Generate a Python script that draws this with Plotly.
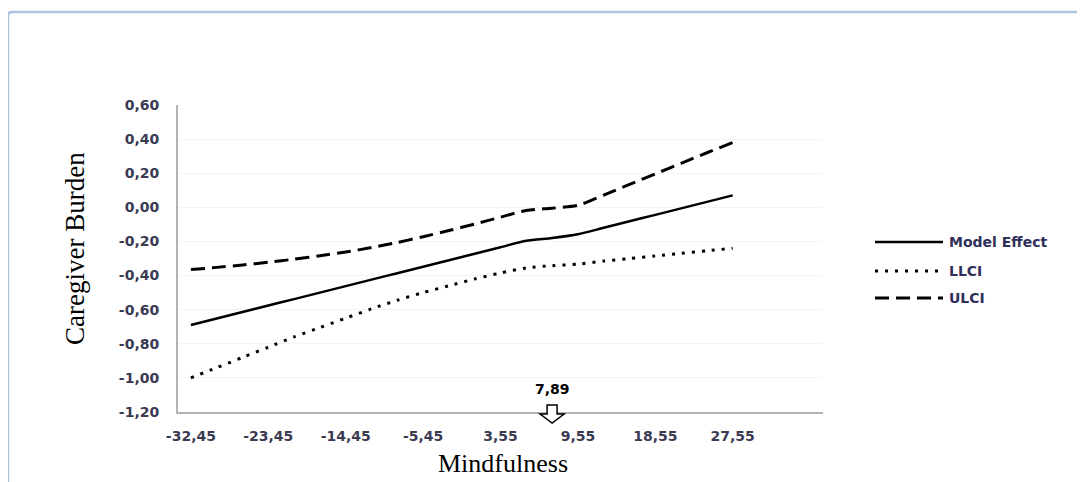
import plotly.graph_objects as go

# ---- data ----
mindfulness = [-32.45, -29.45, -26.45, -23.45, -20.45, -17.45, -14.45, -11.45,
               -8.45, -5.45, -2.45, 0.55, 3.55, 6.55, 7.89, 9.55, 12.55, 15.55,
               18.55, 21.55, 24.55, 27.55]
model_effect = [-0.690, -0.652, -0.614, -0.576, -0.538, -0.500, -0.462, -0.424,
                -0.386, -0.348, -0.310, -0.272, -0.234, -0.196, -0.180, -0.158,
                -0.120, -0.082, -0.044, -0.006, 0.032, 0.070]
llci = [-1.00, -0.94, -0.88, -0.82, -0.76, -0.705, -0.65, -0.595,
        -0.545, -0.50, -0.46, -0.42, -0.385, -0.355, -0.342, -0.333, -0.315, -0.30,
        -0.285, -0.27, -0.255, -0.24]
ulci = [-0.365, -0.352, -0.338, -0.322, -0.304, -0.284, -0.262, -0.236,
        -0.206, -0.172, -0.136, -0.098, -0.058, -0.018, -0.005, 0.012, 0.072, 0.134,
        0.196, 0.258, 0.320, 0.380]
jn_point = 7.89
y_tick_values = [-1.2, -1.0, -0.8, -0.6, -0.4, -0.2, 0.0, 0.2, 0.4, 0.6]
y_tick_labels = ["-1,20", "-1,00", "-0,80", "-0,60", "-0,40", "-0,20",
                 "0,00", "0,20", "0,40", "0,60"]
series_names = ["Model Effect", "LLCI", "ULCI"]

# ---- helpers / layout constants ----
def lab(v):
    return f"{v:.2f}".replace(".", ",")

cats = [lab(v) for v in mindfulness]
N_SLOTS = 25  # category slots shown on the axis (3 empty at the end)

OFF = 8  # default page margin of the html body
PAGE_W, PAGE_H = 1085, 482
W, H = PAGE_W - OFF, PAGE_H - OFF
# plot area in page pixels: x 178..823, y 105..412
L = 178 - OFF
T = 105 - OFF
R = PAGE_W - 823
B = PAGE_H - 412
PW, PH = W - L - R, H - T - B

def px(xpage):
    return (xpage - OFF - L) / PW

def py(ypage):
    return (H - B - (ypage - OFF)) / PH

styles = [
    dict(color="black", width=2.5, dash="solid"),
    dict(color="black", width=3, dash="3px,7px"),
    dict(color="black", width=3, dash="14px,7px"),
]

fig = go.Figure()
for name, vals, st in zip(series_names, [model_effect, llci, ulci], styles):
    fig.add_trace(go.Scatter(x=cats, y=vals, mode="lines", name=name,
                             line=dict(**st, shape="spline", smoothing=0.7),
                             showlegend=False))

tick_font = dict(family="DejaVu Sans", size=14, color="#3a3a52", weight="bold")

fig.update_layout(
    width=W, height=H,
    margin=dict(l=L, r=R, t=T, b=B),
    paper_bgcolor="white", plot_bgcolor="white",
    xaxis=dict(type="category", categoryorder="array", categoryarray=cats,
               range=[-0.5, N_SLOTS - 0.5], tickmode="array", tickvals=cats[::3],
               ticktext=cats[::3], showgrid=False, zeroline=False,
               showline=True, linecolor="#b3b3b3", linewidth=2,
               ticks="outside", ticklen=10, tickcolor="rgba(0,0,0,0)",
               tickfont=tick_font, fixedrange=True),
    yaxis=dict(range=[-1.2, 0.6], tickmode="array", tickvals=y_tick_values,
               ticktext=y_tick_labels, showgrid=True, gridcolor="#f4f4f4",
               gridwidth=1, zeroline=False, showline=True, linecolor="#b3b3b3",
               linewidth=2, ticks="outside", ticklen=14,
               tickcolor="rgba(0,0,0,0)", tickfont=tick_font, fixedrange=True),
)

shapes = []
# outer frame (light blue, rounded corner)
shapes.append(dict(type="path", xref="paper", yref="paper",
                   path=f"M {px(8)},{py(490)} L {px(8)},{py(16)} Q {px(8)},{py(12)} {px(12)},{py(12)} L {px(1095)},{py(12)}",
                   line=dict(color="#aec4df", width=2.5), layer="above"))
# arrow at Johnson-Neyman point (positioned at its category slot)
jn_x = (cats.index(lab(jn_point)) + 0.5) / N_SLOTS
shapes.append(dict(type="path", xref="paper", yref="paper", xsizemode="pixel",
                   ysizemode="pixel", xanchor=jn_x, yanchor=0,
                   path="M -5,7 L 5,7 L 5,-2 L 12,-2 L 0,-11 L -12,-2 L -5,-2 Z",
                   fillcolor="white", line=dict(color="black", width=1.5),
                   layer="above"))
# manual legend
legend_rows = [242, 271, 298]
for st, yr in zip(styles, legend_rows):
    shapes.append(dict(type="line", xref="paper", yref="paper",
                       x0=px(875), x1=px(943), y0=py(yr), y1=py(yr),
                       line=st))
fig.update_layout(shapes=shapes)

ann = []
for name, yr in zip(series_names, legend_rows):
    ann.append(dict(xref="paper", yref="paper", x=px(947), y=py(yr),
                    text=name, showarrow=False, xanchor="left", yanchor="middle",
                    font=dict(family="DejaVu Sans", size=14, color="#30305a",
                              weight="bold")))
ann.append(dict(x=jn_x, y=0, xref="paper", yref="paper", yshift=23,
                text=lab(jn_point), showarrow=False, xanchor="center",
                yanchor="middle",
                font=dict(family="DejaVu Sans", size=14, color="black",
                          weight="bold")))
ann.append(dict(xref="paper", yref="paper", x=px(75), y=py(248),
                text="Caregiver Burden", textangle=-90, showarrow=False,
                xanchor="center", yanchor="middle",
                font=dict(family="Liberation Serif", size=27, color="black")))
ann.append(dict(xref="paper", yref="paper", x=px(503), y=py(463),
                text="Mindfulness", showarrow=False, xanchor="center",
                yanchor="middle",
                font=dict(family="Liberation Serif", size=26, color="black")))
fig.update_layout(annotations=ann)

fig.write_html("out.html")
